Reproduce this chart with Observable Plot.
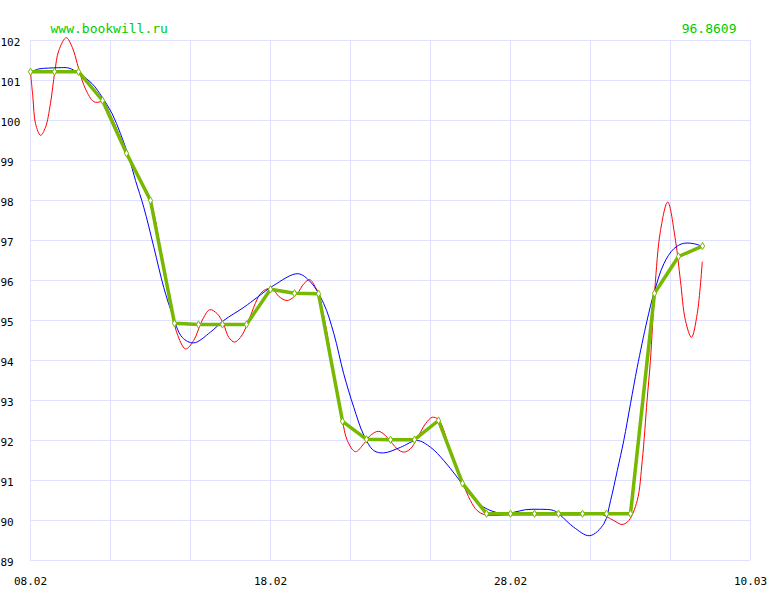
<!DOCTYPE html>
<html>
<head>
<meta charset="utf-8">
<script src="https://cdn.jsdelivr.net/npm/d3@7"></script>
<script src="https://cdn.jsdelivr.net/npm/@observablehq/plot@0.6"></script>
<style>
  html, body { margin: 0; padding: 0; background: #ffffff; }
  #chart svg { display: block; }
</style>
</head>
<body>
<div id="chart"></div>
<script>
// ---- data (x = days since 08.02) ----
const siteTitle = "www.bookwill.ru";
const greenDays = [0,1,2,3,4,5,6,7,8,9,10,11,12,13,14,15,16,17,18,19,20,21,22,23,24,25,26,27,28];
const greenValues = [101.22,101.22,101.22,100.5,99.18,98.0,94.93,94.9,94.9,94.9,95.78,95.68,95.67,92.48,92.03,92.02,92.02,92.5,90.93,90.17,90.17,90.17,90.17,90.17,90.17,90.17,95.68,96.6,96.8609];

const redDays = [0,0.1,0.21,0.42,0.625,0.83,1.01,1.18,1.49,1.74,1.95,2.05,2.29,2.64,2.92,3,3.4,4,4.5,5,5.5,6,6.11,6.46,6.8,7.15,7.47,7.78,8.05,8.26,8.5,8.75,9.03,9.3,9.58,9.86,10.14,10.35,10.7,11.11,11.39,11.64,11.875,12,12.36,12.64,12.92,13,13.2,13.54,13.89,14.17,14.51,14.86,15.28,15.55,15.83,16.1,16.46,16.74,17,17.5,18,18.33,18.61,18.96,20,21,22,23,23.7,24.3,24.65,24.93,25.28,25.49,25.69,25.83,26.01,26.25,26.55,26.875,27.08,27.29,27.54,27.78,27.99];
const redValues = [101.21,100.58,99.92,99.63,99.83,100.42,101.21,101.75,102.07,101.83,101.42,101.21,100.79,100.47,100.47,100.5,100.05,99.2,98.62,98.0,96.5,94.93,94.67,94.29,94.5,95.0,95.27,95.17,94.9,94.58,94.46,94.58,94.9,95.33,95.67,95.79,95.75,95.6,95.5,95.67,95.92,96.02,95.83,95.67,94.67,93.58,92.67,92.48,92.0,91.72,91.92,92.13,92.23,92.08,91.79,91.71,91.79,92.04,92.42,92.58,92.52,91.75,90.96,90.5,90.25,90.14,90.14,90.14,90.14,90.14,90.17,90.0,89.9,90.0,90.5,91.5,93.0,94.0,95.75,97.25,97.96,97.0,96.0,95.0,94.58,95.17,96.46];

const blueDays = [0,0.35,0.75,1.18,1.6,2.01,2.57,2.99,3.4,3.75,4.1,4.375,4.72,5.14,5.55,5.9,6.32,6.8,7.5,8.05,8.89,9.45,10.14,11.14,11.67,12.22,12.64,13.05,13.47,13.89,14.3,14.72,15.42,16.11,16.67,17.22,17.78,18.33,18.89,19.58,20.1,20.625,21.25,21.8,22.08,22.64,23.3,23.89,24.17,24.45,24.72,25.0,25.28,25.69,25.97,26.39,26.8,27.22,27.78,28.03];
const blueValues = [101.21,101.29,101.31,101.32,101.31,101.18,100.92,100.58,100.17,99.67,99.08,98.5,97.83,96.83,95.83,95.17,94.58,94.44,94.71,95.0,95.33,95.58,95.88,96.17,95.96,95.42,94.67,93.67,92.83,92.13,91.75,91.69,91.83,92.0,91.83,91.5,91.08,90.63,90.33,90.18,90.2,90.27,90.28,90.25,90.13,89.83,89.62,89.92,90.5,91.25,92.0,92.92,93.83,95.0,95.67,96.42,96.79,96.93,96.9,96.83];

const yTicks = [89,90,91,92,93,94,95,96,97,98,99,100,101,102];
const xTickDays = [0,10,20,30];
const xTickLabels = ["08.02","18.02","28.02","10.03"];
const xGridDays = [0,10/3,20/3,10,40/3,50/3,20,70/3,80/3,30];

// ---- tables ----
const green = greenDays.map((d,i) => ({d, v: greenValues[i]}));
const red = redDays.map((d,i) => ({d, v: redValues[i]}));
const blue = blueDays.map((d,i) => ({d, v: blueValues[i]}));
const lastValue = String(greenValues[greenValues.length - 1]);
const labelMap = new Map(xTickDays.map((d,i) => [d, xTickLabels[i]]));

const mono = "DejaVu Sans Mono";
const gridColor = "#e0e0ff";
const greenLine = "#77b800";

const chart = Plot.plot({
  width: 780,
  height: 600,
  marginLeft: 30,
  marginRight: 30,
  marginTop: 40,
  marginBottom: 40,
  style: {background: "#ffffff", color: "#000000"},
  x: {domain: [0, 30], label: null},
  y: {domain: [89, 102], label: null},
  marks: [
    Plot.ruleY(yTicks, {y: d => d, stroke: gridColor, strokeWidth: 1}),
    Plot.ruleX(xGridDays, {x: d => d, stroke: gridColor, strokeWidth: 1}),
    Plot.axisY(yTicks, {tickSize: 0, tickPadding: 0, textAnchor: "start", dx: -30, dy: 2,
      fontSize: 11, fontFamily: mono, fill: "#000000", label: null}),
    Plot.axisX(xTickDays, {tickSize: 0, tickPadding: 17, tickFormat: d => labelMap.get(d),
      fontSize: 11, fontFamily: mono, fill: "#000000", label: null}),
    Plot.line(red, {x: "d", y: "v", stroke: "#ff0000", strokeWidth: 1, curve: "catmull-rom"}),
    Plot.line(blue, {x: "d", y: "v", stroke: "#0000ff", strokeWidth: 1, curve: "catmull-rom"}),
    Plot.line(green, {x: "d", y: "v", stroke: greenLine, strokeWidth: 3.5}),
    Plot.dot(green, {x: "d", y: "v", symbol: "diamond", r: 2.2, fill: "#ffffff", stroke: greenLine, strokeWidth: 1}),
    Plot.text([siteTitle], {frameAnchor: "top-left", text: d => d, dx: 20, dy: -12, textAnchor: "start",
      lineAnchor: "middle", fill: "#00cc00", fontSize: 13, fontFamily: mono}),
    Plot.text([lastValue], {frameAnchor: "top-right", text: d => d, dx: -14, dy: -12, textAnchor: "end",
      lineAnchor: "middle", fill: "#00cc00", fontSize: 13, fontFamily: mono})
  ]
});
document.getElementById("chart").appendChild(chart);
</script>
</body>
</html>
